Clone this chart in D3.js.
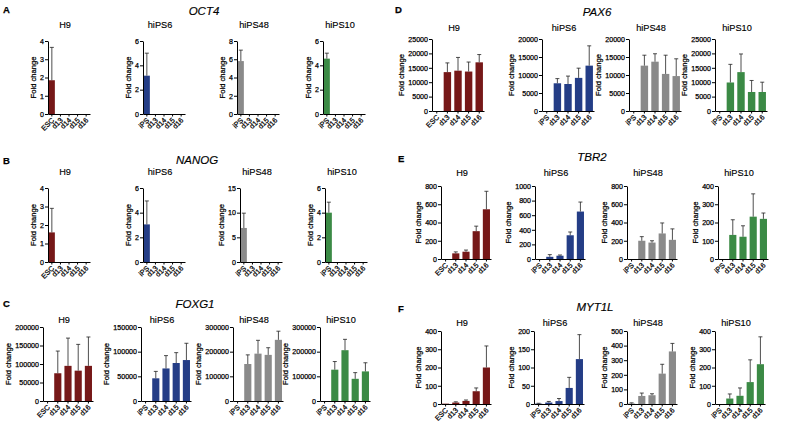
<!DOCTYPE html>
<html>
<head>
<meta charset="utf-8">
<script src="https://cdn.jsdelivr.net/npm/d3@7"></script>
<style>
  body { margin: 0; background: #fff; }
  svg { font-family: "Liberation Sans", Arial, sans-serif; }
  svg text { fill: #000; stroke: #000; stroke-width: 0.25px; }
</style>
</head>
<body>
<svg width="787" height="431"></svg>
<script>
// cell lines and days
var lines = ['H9', 'hiPS6', 'hiPS48', 'hiPS10'];
var lineColors = ['#761818', '#243d86', '#8a8a8a', '#3b8a45'];
var h9Days = ['ESC', 'd13', 'd14', 'd15', 'd16'];
var ipsDays = ['iPS', 'd13', 'd14', 'd15', 'd16'];
var genes = ['OCT4', 'NANOG', 'FOXG1', 'PAX6', 'TBR2', 'MYT1L'];
var letters = ['A', 'B', 'C', 'D', 'E', 'F'];

// mean fold change, one row per line (H9, hiPS6, hiPS48, hiPS10)
var oct4Mean = [[1.85,0,0,0,0],[3.15,0,0,0,0],[5.8,0,0,0,0],[4.55,0,0,0,0]];
var oct4Sd   = [[1.8,0,0,0,0],[1.85,0,0,0,0],[1.2,0,0,0,0],[0.45,0,0,0,0]];
var oct4Max  = [4, 6, 8, 6];
var oct4Step = [1, 2, 2, 2];

var nanogMean = [[1.6,0,0,0,0],[3.05,0,0,0,0],[6.9,0,0,0,0],[4.0,0,0,0,0]];
var nanogSd   = [[1.3,0,0,0,0],[1.9,0,0,0,0],[3.0,0,0,0,0],[0.85,0,0,0,0]];
var nanogMax  = [4, 6, 15, 6];
var nanogStep = [1, 2, 5, 2];

var foxg1Mean = [[0,75000,95000,82000,95000],[0,46000,66000,77000,83000],[0,150000,192000,187000,248000],[0,127000,206000,90000,120000]];
var foxg1Sd   = [[0,60000,75000,71000,78000],[0,14000,26000,21000,34000],[0,37000,54000,29000,35000],[0,33000,44000,25000,35000]];
var foxg1Max  = [200000, 150000, 300000, 300000];
var foxg1Step = [50000, 50000, 100000, 100000];

var pax6Mean = [[0,13500,14000,13700,16900],[0,7700,7500,9200,12600],[0,12600,13700,10300,9700],[0,9900,13500,6600,6600]];
var pax6Sd   = [[0,3200,4600,3300,2700],[0,1300,2200,2700,5500],[0,2900,2200,5200,4800],[0,6300,6300,4000,3400]];
var pax6Max  = [25000, 20000, 20000, 25000];
var pax6Step = [5000, 5000, 5000, 5000];

var tbr2Mean = [[0,62,80,305,545],[0,30,45,325,650],[0,200,180,280,210],[0,132,122,232,220]];
var tbr2Sd   = [[0,16,18,55,197],[0,30,10,45,130],[0,45,20,115,120],[0,83,60,125,32]];
var tbr2Max  = [800, 1000, 800, 400];
var tbr2Step = [200, 200, 200, 100];

var myt1lMean = [[2,8,17,70,200],[1,4,8,44,123],[3,55,60,208,360],[0,30,45,120,218]];
var myt1lSd   = [[0,4,5,18,118],[1,3,7,29,67],[5,20,10,64,55],[0,25,43,122,150]];
var myt1lMax  = [400, 200, 500, 400];
var myt1lStep = [100, 50, 100, 100];

var means = [oct4Mean, nanogMean, foxg1Mean, pax6Mean, tbr2Mean, myt1lMean];
var sds = [oct4Sd, nanogSd, foxg1Sd, pax6Sd, tbr2Sd, myt1lSd];
var maxs = [oct4Max, nanogMax, foxg1Max, pax6Max, tbr2Max, myt1lMax];
var steps = [oct4Step, nanogStep, foxg1Step, pax6Step, tbr2Step, myt1lStep];

// where each panel sits on the page
var layout = [
    {letter: [3, 13], title: [204, 15], sub: 28, top: 41, base: 114, axes: [48, 143, 237, 323], w: 42},
    {letter: [3, 164], title: [197, 164], sub: 175, top: 188, base: 262, axes: [48, 143, 240, 325], w: 42},
    {letter: [3, 307], title: [195, 308], sub: 323, top: 327, base: 401, axes: [43, 141, 233, 320], w: 50},
    {letter: [395, 13], title: [597, 16], sub: 31, top: 39, base: 111, axes: [432, 542, 629, 715], w: 52},
    {letter: [398, 162], title: [592, 161], sub: 176, top: 186, base: 259, axes: [441, 535, 627, 718], w: 50},
    {letter: [398, 312], title: [595, 311], sub: 326, top: 331, base: 404, axes: [441, 534, 627, 715], w: 50}
];

var svg = d3.select('svg');

function draw_panel(p){
    var lay = layout[p];

    svg.append('text')
        .attr('x', lay.letter[0]).attr('y', lay.letter[1])
        .attr('font-size', 9.5).attr('font-weight', 'bold')
        .text(letters[p]);

    svg.append('text')
        .attr('x', lay.title[0]).attr('y', lay.title[1])
        .attr('text-anchor', 'middle')
        .attr('font-size', 11.5).attr('font-style', 'italic')
        .style('stroke-width', '0.15px')
        .text(genes[p]);

    for (var i = 0; i < 4; i++){
        draw_sub(p, i);
    }
}

function draw_sub(p, i){
    var lay = layout[p];
    var days = i == 0 ? h9Days : ipsDays;
    var mean = means[p][i];
    var sd = sds[p][i];
    var ax = lay.axes[i];

    var g = svg.append('g').attr('transform', 'translate(' + ax + ',0)');

    var x = d3.scaleBand().domain(days).range([0, lay.w])
        .paddingInner(0.3).paddingOuter(0.1);
    var y = d3.scaleLinear().domain([0, maxs[p][i]]).range([lay.base, lay.top]);

    var data = days.map(function(d, k){ return {day: d, m: mean[k], s: sd[k]}; });

    g.selectAll('rect').data(data).enter()
        .append('rect')
        .attr('x', function(d){ return x(d.day); })
        .attr('width', x.bandwidth())
        .attr('y', function(d){ return y(d.m); })
        .attr('height', function(d){ return y(0) - y(d.m); })
        .attr('fill', lineColors[i]);

    var err = g.selectAll('g.err').data(data.filter(function(d){ return d.s > 0; }))
        .enter().append('g').attr('class', 'err');
    err.append('line')
        .attr('x1', function(d){ return x(d.day) + x.bandwidth()/2; })
        .attr('x2', function(d){ return x(d.day) + x.bandwidth()/2; })
        .attr('y1', function(d){ return y(d.m); })
        .attr('y2', function(d){ return y(d.m + d.s); })
        .attr('stroke', '#222').attr('stroke-width', 0.8);
    err.append('line')
        .attr('x1', function(d){ return x(d.day) + x.bandwidth()/2 - 2; })
        .attr('x2', function(d){ return x(d.day) + x.bandwidth()/2 + 2; })
        .attr('y1', function(d){ return y(d.m + d.s); })
        .attr('y2', function(d){ return y(d.m + d.s); })
        .attr('stroke', '#222').attr('stroke-width', 0.8);

    var yAxis = g.append('g')
        .call(d3.axisLeft(y).tickValues(d3.range(0, maxs[p][i] + 1, steps[p][i]))
            .tickFormat(d3.format('d')).tickSize(3).tickSizeOuter(0).tickPadding(1));
    yAxis.selectAll('text').attr('font-size', 7.1).attr('font-family', null);

    var xAxis = g.append('g').attr('transform', 'translate(0,' + lay.base + ')')
        .call(d3.axisBottom(x).tickSize(2.5).tickSizeOuter(0));
    xAxis.selectAll('text')
        .attr('font-size', 7.2).attr('font-family', null)
        .attr('x', 0).attr('y', 0).attr('dy', '0.35em')
        .attr('transform', 'translate(1,5) rotate(-45)')
        .attr('text-anchor', 'end');
    g.selectAll('.domain, .tick line').attr('stroke', '#000').attr('stroke-width', 1);

    var bb = yAxis.node().getBBox();
    g.append('text')
        .attr('transform', 'translate(' + (bb.x - 4) + ',' + ((lay.top + lay.base)/2) + ') rotate(-90)')
        .attr('text-anchor', 'middle')
        .attr('font-size', 7.6)
        .text('Fold change');

    svg.append('text')
        .attr('x', ax + lay.w/2 - 4).attr('y', lay.sub)
        .attr('text-anchor', 'middle')
        .attr('font-size', 9.2)
        .style('stroke-width', '0.15px')
        .text(lines[i]);
}

for (var p = 0; p < 6; p++){
    draw_panel(p);
}
</script>
</body>
</html>
